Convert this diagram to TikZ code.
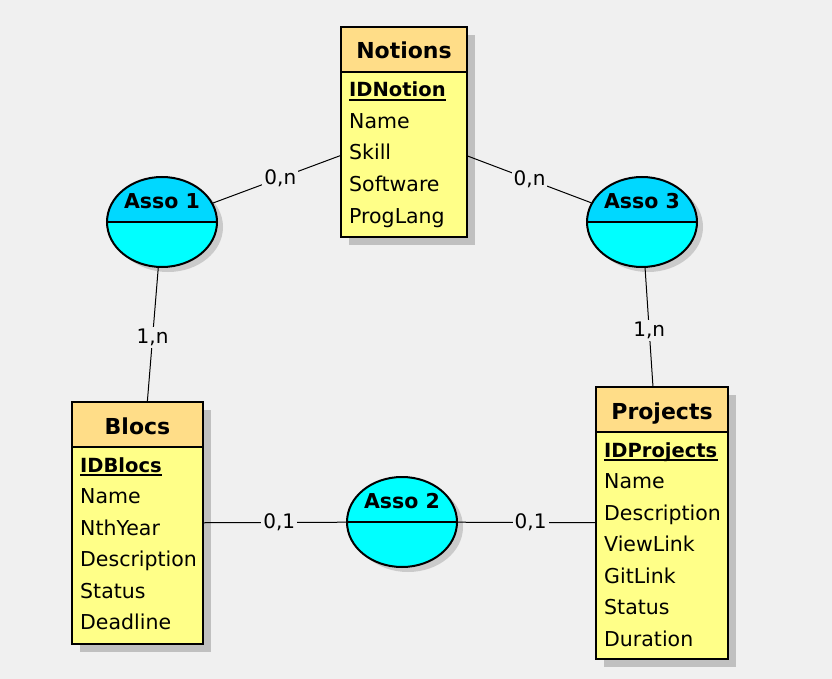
\documentclass[tikz,border=0pt]{standalone}
\usepackage{fontspec}
\setmainfont{DejaVu Sans}
\usetikzlibrary{shadows}
\usetikzlibrary{shapes.geometric}
\usetikzlibrary{calc,positioning}

\definecolor{bg}{HTML}{F0F0F0}
\definecolor{headcol}{HTML}{FFDD88}
\definecolor{bodycol}{HTML}{FFFF88}
\definecolor{assotop}{HTML}{00D8FF}
\definecolor{assocol}{HTML}{00FFFF}
\definecolor{shade}{HTML}{C0C0C0}

\begin{document}
\begin{tikzpicture}[x=1pt, y=-1pt,
    entity/.style n args={2}{draw, line width=2pt, fill=bodycol, inner sep=0pt,
        minimum width=#1pt, minimum height=#2pt,
        drop shadow={shadow xshift=8pt, shadow yshift=-8pt, fill=shade, opacity=1},
        path picture={
            \fill[headcol] (path picture bounding box.north west) rectangle ([yshift=-45pt]path picture bounding box.north east);
            \draw[line width=2pt] ([yshift=-45pt]path picture bounding box.north west) -- ([yshift=-45pt]path picture bounding box.north east);
        }},
    asso/.style={ellipse, draw, line width=2pt, fill=assocol, inner sep=0pt,
        minimum width=110pt, minimum height=90pt,
        drop shadow={shadow xshift=6pt, shadow yshift=-5pt, fill=shade!80!bg, opacity=1},
        path picture={
            \fill[#1] (path picture bounding box.north west) rectangle (path picture bounding box.east);
            \draw[line width=2pt] (path picture bounding box.west) -- (path picture bounding box.east);
        }},
    title/.style={inner sep=0pt, anchor=base, font=\bfseries\fontsize{22}{26}\selectfont},
    assoname/.style={title, font=\bfseries\fontsize{20.5}{24}\selectfont},
    attr/.style={inner sep=0pt, anchor=base west, font=\fontsize{20.5}{24}\selectfont},
    key/.style={attr, font=\bfseries\fontsize{19.5}{23}\selectfont},
    link/.style={line width=1pt},
    card/.style={fill=bg, inner sep=2pt, font=\fontsize{20}{24}\selectfont}]

    \fill[bg] (0,0) rectangle (832,679);

    % entities
    \node[entity={126}{210}] (notions) at (404,132) {};
    \node[title] (notions-title) at ([yshift=-33pt]notions.north) {Notions};
    \node[key] (notions-id) at ($(notions.north west)+(9,71)$) {IDNotion};
    \draw[line width=2pt] ([yshift=-3pt]notions-id.base west) -- ([yshift=-3pt]notions-id.base east);
    \foreach \a [count=\i] in {Name,Skill,Software,ProgLang}
        \node[attr] (notions-\i) at ($(notions.north west)+(9,71+31.5*\i)$) {\a};

    \node[entity={131}{242}] (blocs) at (137.5,523) {};
    \node[title] (blocs-title) at ([yshift=-33pt]blocs.north) {Blocs};
    \node[key] (blocs-id) at ($(blocs.north west)+(9,71)$) {IDBlocs};
    \draw[line width=2pt] ([yshift=-3pt]blocs-id.base west) -- ([yshift=-3pt]blocs-id.base east);
    \foreach \a [count=\i] in {Name,NthYear,Description,Status,Deadline}
        \node[attr] (blocs-\i) at ($(blocs.north west)+(9,71+31.5*\i)$) {\a};

    \node[entity={132}{272}] (projects) at (662,523) {};
    \node[title] (projects-title) at ([yshift=-33pt]projects.north) {Projects};
    \node[key] (projects-id) at ($(projects.north west)+(9,71)$) {IDProjects};
    \draw[line width=2pt] ([yshift=-3pt]projects-id.base west) -- ([yshift=-3pt]projects-id.base east);
    \foreach \a [count=\i] in {Name,Description,ViewLink,GitLink,Status,Duration}
        \node[attr] (projects-\i) at ($(projects.north west)+(9,71+31.5*\i)$) {\a};

    % associations
    \node[asso=assotop] (asso1) at (162,222) {};
    \node[assoname] (asso1-name) at ([yshift=14pt]asso1.center) {Asso 1};
    \node[asso=assocol] (asso2) at (402,522) {};
    \node[assoname] (asso2-name) at ([yshift=14pt]asso2.center) {Asso 2};
    \node[asso=assotop] (asso3) at (642,222) {};
    \node[assoname] (asso3-name) at ([yshift=14pt]asso3.center) {Asso 3};

    % links
    \draw[link] (asso1) -- node[card, pos=0.53] (c1) {0,n} (notions);
    \draw[link] (asso3) -- node[card] (c2) {0,n} (notions);
    \draw[link] (asso1) -- node[card, pos=0.52] (c3) {1,n} (blocs);
    \draw[link] (asso3) -- node[card, pos=0.53] (c4) {1,n} (projects);
    \draw[link] (blocs) -- node[card, pos=0.53] (c5) {0,1} (asso2);
    \draw[link] (asso2) -- node[card, pos=0.53] (c6) {0,1} (projects);

\end{tikzpicture}
\end{document}
